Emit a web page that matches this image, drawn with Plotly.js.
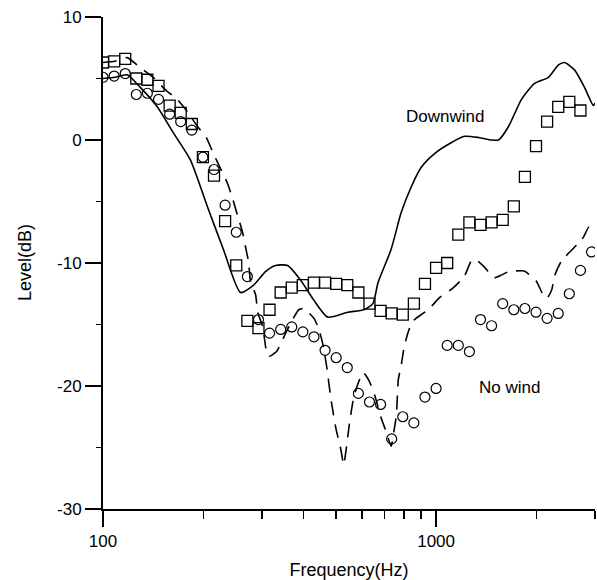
<!DOCTYPE html>
<html>
<head>
<meta charset="utf-8">
<script src="https://cdn.plot.ly/plotly-3.0.1.min.js"></script>
<style>
html,body{margin:0;padding:0;background:#fff;}
#chart{width:597px;height:580px;}
</style>
</head>
<body>
<div id="chart"></div>
<script>
// Measurement frequencies (Hz), shared by both marker series
var markerFreq = [100, 108.0, 116.6, 125.9, 135.9, 146.8, 158.5, 171.1, 184.8, 199.5,
  215.4, 232.6, 251.2, 271.3, 292.9, 316.2, 341.5, 368.7, 398.1, 429.9,
  464.2, 501.2, 541.2, 584.4, 631.0, 681.3, 735.6, 794.3, 857.7, 926.1,
  1000, 1079.8, 1166.0, 1258.9, 1359.4, 1467.8, 1584.9, 1711.3, 1847.8, 1995.3,
  2154.4, 2326.3, 2511.9, 2712.3, 2928.6];

// Downwind measured (squares)
var downwindMeas = [6.3, 6.4, 6.6, 5.0, 4.9, 4.4, 2.8, 2.2, 1.3, -1.4,
  -2.9, -6.6, -10.2, -14.7, -15.3, -13.8, -12.4, -12.0, -11.8, -11.6,
  -11.6, -11.7, -11.8, -12.4, -13.3, -13.9, -14.1, -14.2, -13.3, -11.7,
  -10.4, -10.0, -7.7, -6.7, -6.9, -6.7, -6.5, -5.4, -3.0, -0.5,
  1.5, 2.7, 3.1, 2.4];

// No wind measured (circles)
var noWindMeas = [5.1, 5.2, 5.4, 3.7, 3.8, 3.3, 2.1, 1.5, 0.8, -1.4,
  -2.4, -5.3, -7.5, -11.1, -14.6, -15.7, -15.4, -15.2, -15.6, -16.0,
  -17.1, -17.7, -18.5, -20.6, -21.3, -21.5, -24.3, -22.5, -23.0, -20.9,
  -20.2, -16.7, -16.7, -17.2, -14.6, -15.1, -13.3, -13.8, -13.7, -14.0,
  -14.5, -14.1, -12.5, -10.6, -9.1];

// Downwind predicted (solid line)
var downwindPredFreq = [100, 108.7, 118.1, 129.2, 145.5, 162.5, 182.8, 205.7, 229.9, 258.7,
  283.2, 307.5, 329.6, 358.5, 392.2, 429.0, 472.7, 543.3, 607.0, 646.1,
  669.3, 732.6, 785.7, 842.6, 903.6, 989.6, 1113, 1219, 1343, 1467,
  1540, 1650, 1805, 1976, 2175, 2331, 2430, 2604, 2788, 2965, 3000];
var downwindPred = [5.0, 5.1, 5.3, 4.3, 2.7, 0.6, -1.6, -5.4, -8.9, -12.4,
  -11.8, -10.7, -10.2, -10.2, -11.4, -13.0, -14.4, -14.0, -13.8, -13.3,
  -11.6, -8.9, -5.9, -3.8, -2.2, -1.1, -0.2, 0.3, 0.2, 0.0,
  0.0, 1.1, 3.3, 4.6, 5.1, 6.1, 6.3, 5.7, 4.3, 2.8, 3.0];

// No wind predicted (dashed line)
var noWindPredFreq = [100, 108.7, 118.1, 129.2, 141.4, 153.7, 167.1, 179.2, 192.1, 204.3,
  214.5, 225.1, 236.2, 244.6, 253.3, 262.4, 267.9, 273.5, 277.3, 287.3,
  291.4, 301.8, 308.2, 314.7, 331.9, 353.5, 370.9, 386.9, 400.9, 429.9,
  444, 458, 470, 483, 500, 518, 528, 546, 554, 566,
  583, 604, 630, 655, 682, 710, 733, 748, 760, 770,
  786, 801, 823, 846, 870, 947, 1026, 1128, 1215, 1272,
  1310, 1393, 1496, 1566, 1651, 1839, 1934, 2003, 2117, 2162,
  2223, 2272, 2384, 2652, 2771, 2871, 2930, 3000];
var noWindPred = [6.3, 6.4, 6.7, 5.9, 5.1, 4.1, 3.3, 2.3, 1.1, 0.2,
  -1.1, -2.3, -3.5, -4.7, -6.1, -7.5, -8.7, -9.9, -11.5, -12.6,
  -14.0, -15.2, -16.9, -17.6, -17.2, -15.7, -14.6, -13.8, -13.7, -14.5,
  -15.3, -16.7, -18.5, -21.0, -23.4, -25.2, -26.4, -23.6, -22.4, -20.9,
  -19.8, -18.9, -19.6, -20.8, -22.5, -23.8, -24.9, -23.6, -22.4, -19.5,
  -18.3, -16.9, -15.7, -14.8, -14.5, -13.8, -12.8, -12.0, -11.1, -9.9,
  -9.7, -10.3, -11.2, -11.0, -10.7, -10.65, -11.1, -11.5, -12.8, -12.8,
  -12.2, -11.0, -9.8, -8.5, -7.9, -7.1, -7.3, -7.5];

var xTickVals = [100, 1000];
var xTickText = ['100', '1000'];
var xMinorVals = [200, 300, 400, 500, 600, 700, 800, 900, 2000, 3000];
var yTickVals = [-30, -20, -10, 0, 10];
var yTickText = ['-30', '-20', '-10', '0', '10'];

var FONT = 'Liberation Sans, Arial, sans-serif';

var traces = [
  {x: downwindPredFreq, y: downwindPred, mode: 'lines', type: 'scatter',
   line: {color: '#000', width: 1.6, shape: 'spline', smoothing: 0.6}, hoverinfo: 'skip'},
  {x: noWindPredFreq, y: noWindPred, mode: 'lines', type: 'scatter',
   line: {color: '#000', width: 1.6, dash: '14px,9px', shape: 'spline', smoothing: 0.5}, hoverinfo: 'skip'},
  {x: markerFreq.slice(0, downwindMeas.length), y: downwindMeas, mode: 'markers', type: 'scatter',
   marker: {symbol: 'square-open', size: 11, color: '#000', line: {width: 1.3, color: '#000'}}},
  {x: markerFreq, y: noWindMeas, mode: 'markers', type: 'scatter',
   marker: {symbol: 'circle-open', size: 10, color: '#000', line: {width: 1.2, color: '#000'}}}
];

var layout = {
  width: 597, height: 580,
  margin: {l: 103, r: 2, t: 17, b: 71},
  paper_bgcolor: '#fff', plot_bgcolor: '#fff',
  showlegend: false,
  font: {family: FONT, color: '#000', size: 17},
  xaxis: {
    type: 'log', range: [2, Math.log10(3000)],
    showline: true, linecolor: '#000', linewidth: 2,
    showgrid: false, zeroline: false,
    ticks: 'outside', ticklen: 16, tickwidth: 1.5, tickcolor: '#000',
    tickmode: 'array', tickvals: xTickVals, ticktext: xTickText,
    tickfont: {family: FONT, size: 17},
    minor: {tickmode: 'array', tickvals: xMinorVals, ticks: 'outside', ticklen: 8, tickwidth: 1.5, tickcolor: '#000', showgrid: false},
    title: {text: 'Frequency(Hz)', font: {family: FONT, size: 18}, standoff: 13}
  },
  yaxis: {
    range: [-30, 10],
    showline: true, linecolor: '#000', linewidth: 2,
    showgrid: false, zeroline: false,
    ticks: 'outside', ticklen: 16, tickwidth: 1.5, tickcolor: '#000',
    tickmode: 'array', tickvals: yTickVals, ticktext: yTickText,
    tickfont: {family: FONT, size: 17},
    minor: {dtick: 5, ticks: 'outside', ticklen: 5, tickwidth: 1.5, tickcolor: '#000', showgrid: false}
  },
  annotations: [
    {x: -0.1585, y: 0.5, xref: 'paper', yref: 'paper', text: 'Level(dB)', showarrow: false,
     textangle: -90, xanchor: 'center', yanchor: 'middle', font: {family: FONT, size: 18, color: '#000'}},
    {x: Math.log10(801), y: 1.95, xref: 'x', yref: 'y', text: 'Downwind', showarrow: false,
     xanchor: 'left', yanchor: 'middle', font: {family: FONT, size: 17, color: '#000'}},
    {x: Math.log10(1329), y: -20.1, xref: 'x', yref: 'y', text: 'No wind', showarrow: false,
     xanchor: 'left', yanchor: 'middle', font: {family: FONT, size: 17, color: '#000'}}
  ]
};

Plotly.newPlot('chart', traces, layout, {staticPlot: true, displayModeBar: false});
</script>
</body>
</html>
